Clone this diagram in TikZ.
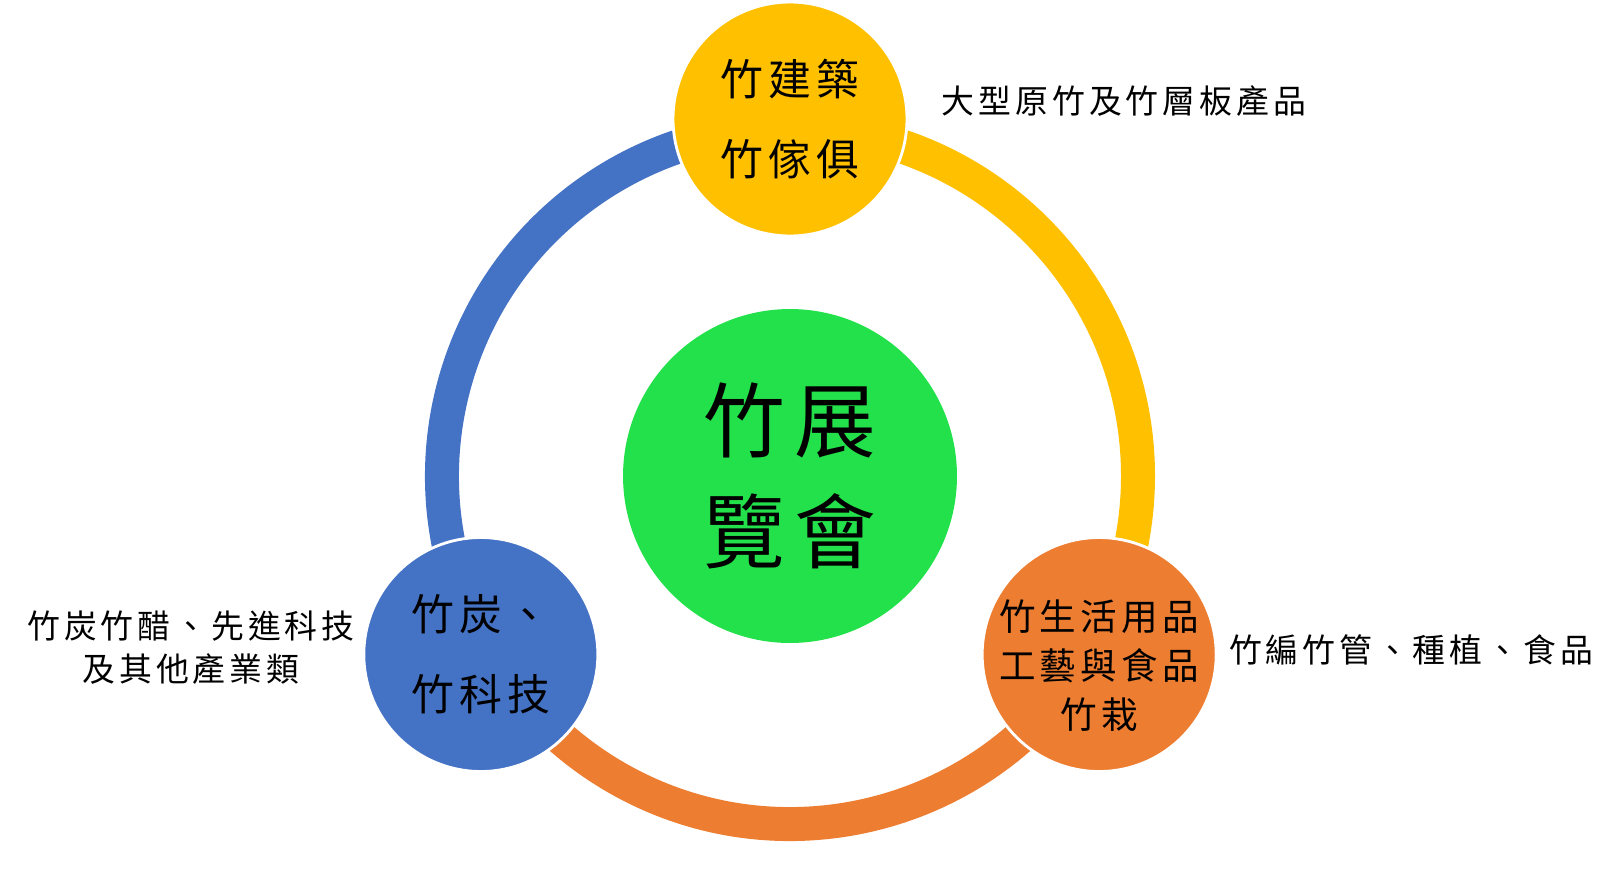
\documentclass[tikz,border=0pt]{standalone}
\usepackage{fontspec}
\newfontfamily\cjk[LetterSpace=12]{Noto Sans CJK TC}
\usetikzlibrary{calc}
\definecolor{bambooyellow}{HTML}{FFC000}
\definecolor{bambooblue}{HTML}{4472C4}
\definecolor{bambooorange}{HTML}{ED7D31}
\definecolor{bamboogreen}{HTML}{23E14B}
\tikzset{
    ring/.style={line width=0.68cm},
    hubdisc/.style={circle, fill=bamboogreen, minimum size=6.68cm, inner sep=0pt, align=center,
        font=\cjk\fontsize{46.5}{63}\selectfont},
    topicdisc/.style={circle, draw=white, line width=1.6pt, minimum size=4.68cm, inner sep=0pt,
        font=\cjk\fontsize{24.4}{45.4}\selectfont},
    disctext/.style={inner sep=0pt, align=center, font=\cjk\fontsize{20.8}{27.8}\selectfont},
    sidenote/.style={inner sep=0pt, align=center, font=\cjk\fontsize{18.7}{24.4}\selectfont},
    common settings/.style={x=0.02cm, y=-0.02cm}
}

\begin{document}
\begin{tikzpicture}[common settings]

    \def\r{348}  % ring radius (px)
    \def\d{357}  % distance of the topic discs from the hub

    \useasboundingbox (0,0) rectangle (1622,890);
    \coordinate (hubc) at (790,476);

    % Ring segments (drawn below the discs)
    \draw[ring, bambooyellow] ($(hubc)+(0,-\r)$) arc[start angle=90, end angle=-30, x radius=\r, y radius=-\r];
    \draw[ring, bambooorange] ($(hubc)+({\r*cos(-30)},{-\r*sin(-30)})$) arc[start angle=-30, end angle=-150, x radius=\r, y radius=-\r];
    \draw[ring, bambooblue] ($(hubc)+({\r*cos(210)},{-\r*sin(210)})$) arc[start angle=210, end angle=90, x radius=\r, y radius=-\r];

    % Centre disc
    \node[hubdisc] (hub) at (hubc) {竹展\\覽會};

    % Topic discs
    \node[topicdisc, fill=bambooyellow, align=center] (build) at ($(hubc)+(0,-\d)$) {竹建築\\竹傢俱};
    \node[topicdisc, fill=bambooorange] (craft) at ($(hubc)+({\d*cos(-30)},{-\d*sin(-30)})$) {};
    \node[disctext] (crafttext) at ($(craft)+(0,11)$) {竹生活用品\\工藝與食品\\竹栽};
    \node[topicdisc, fill=bambooblue, align=left] (tech) at ($(hubc)+({\d*cos(210)},{-\d*sin(210)})$) {竹炭、\\竹科技};

    % Side notes
    \node[sidenote] (buildnote) at (1124,101) {大型原竹及竹層板產品};
    \node[sidenote] (craftnote) at (1411,650) {竹編竹管、種植、食品};
    \node[sidenote] (technote) at (191,648) {竹炭竹醋、先進科技\\及其他產業類};

\end{tikzpicture}
\end{document}
